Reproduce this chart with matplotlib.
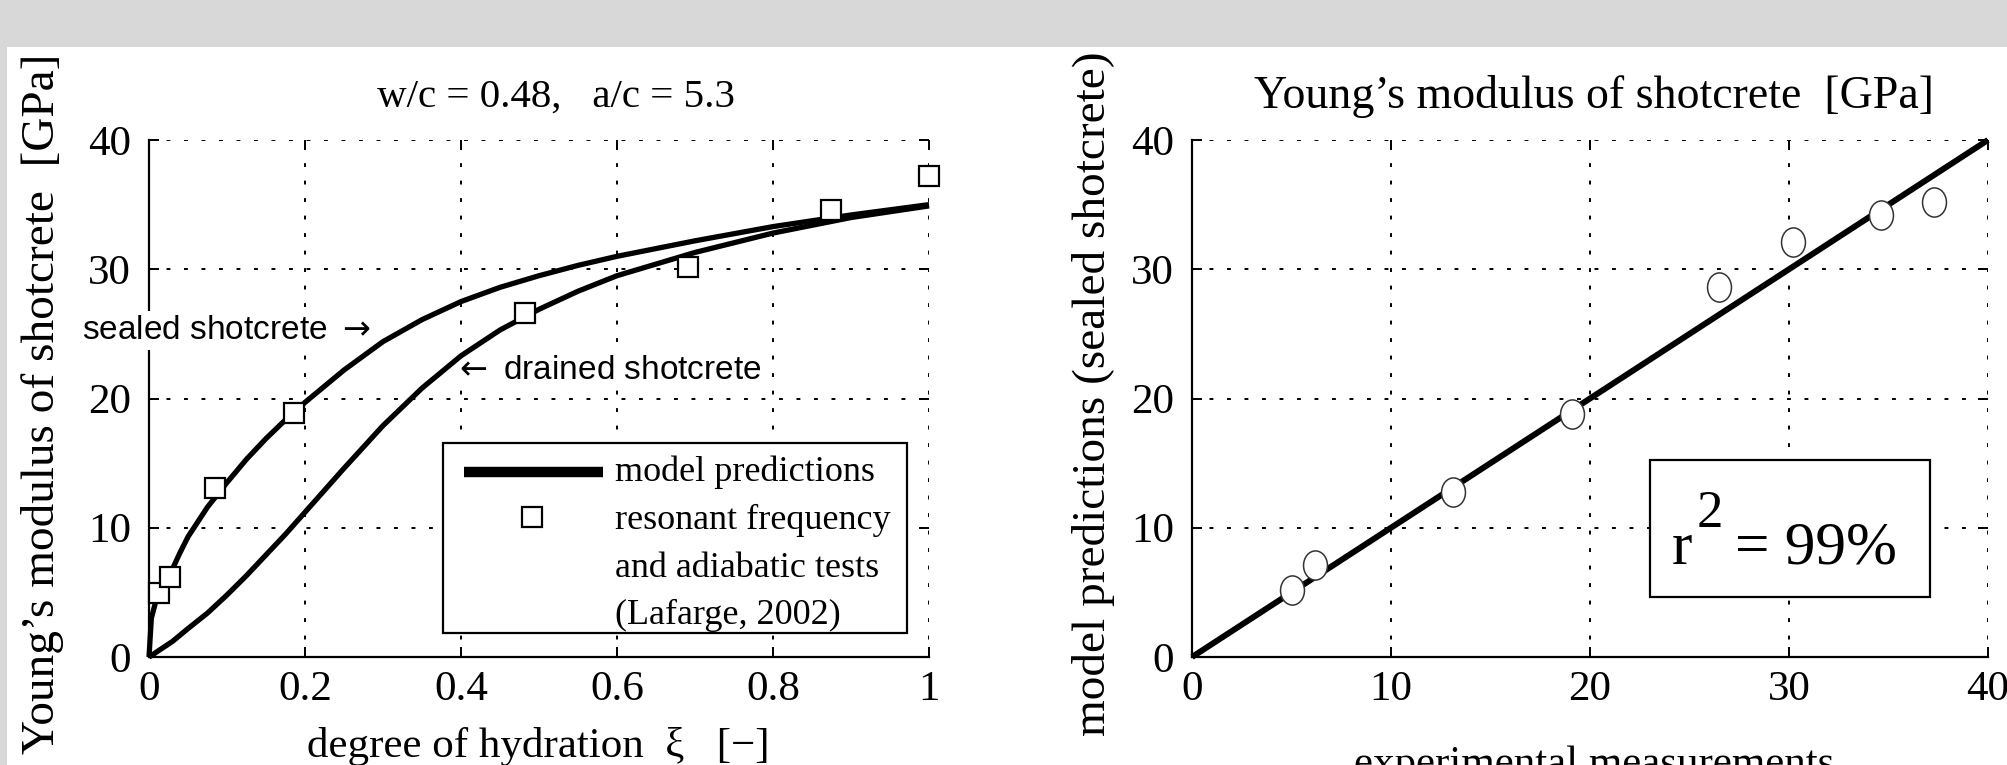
import matplotlib
matplotlib.use("Agg")
import matplotlib.pyplot as plt
from matplotlib.patches import Rectangle
from matplotlib.path import Path

# ---------------- data ----------------
xi_model = [0.0, 0.003, 0.01, 0.02, 0.03, 0.04, 0.05, 0.075, 0.1, 0.125, 0.15, 0.175,
            0.2, 0.25, 0.3, 0.35, 0.4, 0.45, 0.5, 0.55, 0.6, 0.7, 0.8, 0.9, 1.0]
E_sealed = [0.0, 3.0, 4.6, 5.7, 6.8, 8.1, 9.3, 11.6, 13.5, 15.3, 16.9, 18.35,
            19.7, 22.2, 24.4, 26.1, 27.5, 28.6, 29.5, 30.3, 31.0, 32.2, 33.3, 34.2, 35.0]
E_drained = [0.0, 0.1, 0.4, 0.8, 1.2, 1.7, 2.2, 3.4, 4.8, 6.3, 7.9, 9.5,
             11.2, 14.6, 17.9, 20.8, 23.3, 25.3, 26.9, 28.3, 29.5, 31.3, 32.8, 34.0, 34.9]

xi_exp = [0.013, 0.027, 0.085, 0.186, 0.482, 0.691, 0.875, 1.0]
E_exp = [4.94, 6.2, 13.1, 18.9, 26.6, 30.2, 34.6, 37.2]

meas = [5.0, 6.2, 13.1, 19.1, 26.5, 30.2, 34.6, 37.3]
pred = [5.2, 7.1, 12.8, 18.8, 28.6, 32.1, 34.2, 35.2]
diag = [0, 40]

xticks_left = [0, 0.2, 0.4, 0.6, 0.8, 1.0]
xticklabels_left = ["0", "0.2", "0.4", "0.6", "0.8", "1"]
yticks = [0, 10, 20, 30, 40]
xticks_right = [0, 10, 20, 30, 40]

legend_labels = ["model predictions", "resonant frequency", "and adiabatic tests", "(Lafarge, 2002)"]
r2_text = "99%"

# ---------------- figure ----------------
plt.rcParams["font.family"] = ["Liberation Serif", "DejaVu Serif"]
plt.rcParams["mathtext.fontset"] = "dejavusans"
SANS = ["Liberation Sans", "DejaVu Sans"]

W, H = 2008, 765
fig = plt.figure(figsize=(W / 100, H / 100), dpi=100)
fig.patch.set_facecolor("white")
fig.patches.append(Rectangle((0, 1 - 47 / H), 1, 47 / H, transform=fig.transFigure,
                             facecolor="#d8d8d8", edgecolor="none", zorder=0))
fig.patches.append(Rectangle((0, 0), 7 / W, 1, transform=fig.transFigure,
                             facecolor="#d8d8d8", edgecolor="none", zorder=0))

ax1 = fig.add_axes([149 / W, 108 / H, 780 / W, 517 / H])
ax2 = fig.add_axes([1192 / W, 108 / H, 796 / W, 517 / H])

TICK_FS = 31
GRID_LS = (0, (2, 7))


def style(ax):
    for s in ["top", "right"]:
        ax.spines[s].set_visible(False)
    for s in ["left", "bottom"]:
        ax.spines[s].set_linewidth(1.6)
    ax.tick_params(direction="in", length=7, width=1.4, top=True, right=True,
                   labelsize=TICK_FS)
    ax.tick_params(axis="x", pad=10)
    ax.tick_params(axis="y", pad=13)
    ax.grid(True, color="black", linestyle=GRID_LS, linewidth=1.4)


# ---- left panel ----
for E in (E_sealed, E_drained):
    ax1.plot(xi_model, E, color="black", lw=3.8, solid_capstyle="butt",
             solid_joinstyle="round", clip_on=False, zorder=3)
ax1.plot(xi_exp, E_exp, linestyle="none", marker="s", markersize=15, markerfacecolor="white",
         markeredgecolor="black", markeredgewidth=1.6, clip_on=False, zorder=4)
ax1.set_xlim(0, 1)
ax1.set_ylim(0, 40)
ax1.set_xticks(xticks_left)
ax1.set_xticklabels(xticklabels_left)
ax1.set_yticks(yticks)
style(ax1)

ax1.text(0.522, 1.064, "w/c = 0.48,   a/c = 5.3", transform=ax1.transAxes,
         ha="center", va="baseline", fontsize=29.5)
ax1.text(0.499, -0.193, "degree of hydration  ξ   [−]", transform=ax1.transAxes,
         ha="center", va="baseline", fontsize=31)
ax1.text(-0.136, 0.49, "Young’s modulus of shotcrete  [GPa]", transform=ax1.transAxes,
         ha="center", va="center", rotation=90, fontsize=34)

ax1.text(-0.086, 0.632, "sealed shotcrete $\\rightarrow$", transform=ax1.transAxes,
         family=SANS, ha="left", va="center", fontsize=24, zorder=2.8, clip_on=False,
         bbox=dict(facecolor="white", edgecolor="none", pad=3))
ax1.text(0.390, 0.555, "$\\leftarrow$ drained shotcrete", transform=ax1.transAxes,
         family=SANS, ha="left", va="center", fontsize=24, zorder=2.8,
         bbox=dict(facecolor="white", edgecolor="none", pad=1))

# legend box (drawn manually to match layout)
ax1.add_patch(Rectangle((0.377, 0.046), 0.595, 0.368, transform=ax1.transAxes,
                        facecolor="white", edgecolor="black", lw=1.6, zorder=5))
ax1.plot([0.404, 0.582], [0.358, 0.358], transform=ax1.transAxes, color="black",
         lw=7.5, solid_capstyle="butt", zorder=6)
ax1.plot([0.491], [0.271], transform=ax1.transAxes, linestyle="none", marker="s",
         markersize=15, markerfacecolor="white", markeredgecolor="black",
         markeredgewidth=1.6, zorder=6)
for lab, yy in zip(legend_labels, [0.358, 0.265, 0.172, 0.081]):
    ax1.text(0.597, yy, lab, transform=ax1.transAxes, ha="left", va="center",
             fontsize=26, zorder=6)

# ---- right panel ----
ell = Path.unit_circle()
ell = Path(ell.vertices * [0.82, 1.0], ell.codes)
ax2.plot(diag, diag, color="black", lw=4.3, solid_capstyle="butt", clip_on=False, zorder=3)
ax2.plot(meas, pred, linestyle="none", marker=ell, markersize=21, markerfacecolor="white",
         markeredgecolor="#333333", markeredgewidth=1.1, zorder=4)
ax2.set_xlim(0, 40)
ax2.set_ylim(0, 40)
ax2.set_xticks(xticks_right)
ax2.set_yticks(yticks)
style(ax2)

ax2.text(0.505, 1.062, "Young’s modulus of shotcrete  [GPa]", transform=ax2.transAxes,
         ha="center", va="baseline", fontsize=33)
ax2.text(0.505, -0.228, "experimental measurements", transform=ax2.transAxes,
         ha="center", va="baseline", fontsize=31)
ax2.text(-0.124, 0.51, "model predictions (sealed shotcrete)", transform=ax2.transAxes,
         ha="center", va="center", rotation=90, fontsize=34)

ax2.add_patch(Rectangle((0.575, 0.116), 0.352, 0.265, transform=ax2.transAxes,
                        facecolor="white", edgecolor="black", lw=1.6, zorder=5))
ax2.text(0.603, 0.180, "r", transform=ax2.transAxes, ha="left", va="baseline",
         fontsize=44, zorder=6)
ax2.text(0.634, 0.252, "2", transform=ax2.transAxes, ha="left", va="baseline",
         fontsize=38, zorder=6)
ax2.text(0.682, 0.180, "= " + r2_text, transform=ax2.transAxes, ha="left", va="baseline",
         fontsize=44, zorder=6)

fig.savefig("out.png", dpi=100, facecolor=fig.get_facecolor())
